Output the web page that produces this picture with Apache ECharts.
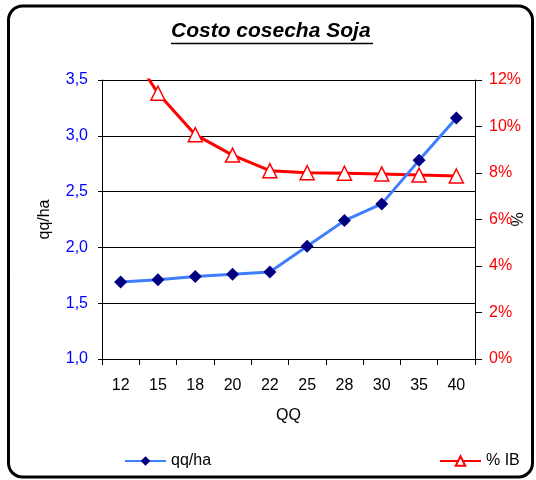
<!DOCTYPE html>
<html lang="es">
<head>
    <meta charset="UTF-8">
    <title>Costo cosecha Soja</title>
    <script src="https://cdn.jsdelivr.net/npm/echarts@6/dist/echarts.min.js"></script>
    <style>
        html, body { margin: 0; padding: 0; background: #fff; }
        #main { width: 536px; height: 480px; }
    </style>
</head>
<body>
<div id="main"></div>

<script>
    // datos
    var categorias = ['12', '15', '18', '20', '22', '25', '28', '30', '35', '40'];
    var qqHa = [1.69, 1.71, 1.74, 1.76, 1.78, 2.01, 2.24, 2.39, 2.78, 3.16];
    var pctIB = [13.9, 11.43, 9.65, 8.77, 8.1, 8.01, 7.99, 7.96, 7.91, 7.87];

    var fuente = 'Liberation Sans, Arial, sans-serif';

    var myChart = echarts.init(document.getElementById('main'));

    var option = {
        backgroundColor: '#fff',
        animation: false,
        title: {
            text: 'Costo cosecha Soja',
            left: 166,
            top: 16,
            textStyle: {
                fontFamily: fuente,
                fontSize: 21,
                fontWeight: 'bold',
                fontStyle: 'italic',
                color: '#000'
            }
        },
        graphic: [
            {
                // marco redondeado
                type: 'rect',
                shape: { x: 8.5, y: 6, width: 524, height: 471, r: 14 },
                style: { fill: null, stroke: '#000', lineWidth: 3 },
                silent: true
            },
            {
                // subrayado del titulo
                type: 'line',
                shape: { x1: 171, y1: 43.5, x2: 373, y2: 43.5 },
                style: { stroke: '#000', lineWidth: 1.5 },
                silent: true
            }
        ],
        legend: [
            {
                data: ['qq/ha'],
                left: 119,
                top: 448,
                itemWidth: 41,
                itemHeight: 12,
                textStyle: { fontFamily: fuente, fontSize: 16, color: '#000' }
            },
            {
                data: ['% IB'],
                left: 434,
                top: 448,
                itemWidth: 41,
                itemHeight: 12,
                textStyle: { fontFamily: fuente, fontSize: 16, color: '#000' }
            }
        ],
        grid: {
            left: 102,
            right: 61,
            top: 80,
            bottom: 121,
            outerBoundsMode: 'none'
        },
        xAxis: {
            type: 'category',
            data: categorias,
            boundaryGap: true,
            name: 'QQ',
            nameLocation: 'middle',
            nameGap: 49,
            nameMoveOverlap: false,
            nameTextStyle: { fontFamily: fuente, fontSize: 16, color: '#000' },
            axisLine: { lineStyle: { color: '#000', width: 1 } },
            axisTick: { show: true, length: 6, lineStyle: { color: '#000' } },
            axisLabel: { margin: 19, fontFamily: fuente, fontSize: 16, color: '#000' }
        },
        yAxis: [
            {
                type: 'value',
                min: 1,
                max: 3.5,
                interval: 0.5,
                name: 'qq/ha',
                nameLocation: 'middle',
                nameGap: 49,
                nameMoveOverlap: false,
                nameTextStyle: { fontFamily: fuente, fontSize: 16, color: '#000' },
                axisLine: { show: true, lineStyle: { color: '#000', width: 1 } },
                axisTick: { show: true, length: 4, lineStyle: { color: '#000' } },
                axisLabel: {
                    margin: 14,
                    fontFamily: fuente,
                    fontSize: 16,
                    color: '#0000ff',
                    formatter: function (v) { return v.toFixed(1).replace('.', ','); }
                },
                splitLine: { show: true, lineStyle: { color: '#000', width: 1 } }
            },
            {
                type: 'value',
                min: 0,
                max: 12,
                interval: 2,
                position: 'right',
                name: '%',
                nameLocation: 'middle',
                nameGap: 36,
                nameMoveOverlap: false,
                nameTextStyle: { fontFamily: fuente, fontSize: 16, color: '#000' },
                axisLine: { show: true, lineStyle: { color: '#000', width: 1 } },
                axisTick: { show: true, length: 7, lineStyle: { color: '#000' } },
                axisLabel: {
                    margin: 14,
                    fontFamily: fuente,
                    fontSize: 16,
                    color: '#ff0000',
                    formatter: '{value}%'
                },
                splitLine: { show: false }
            }
        ],
        series: [
            {
                name: 'qq/ha',
                type: 'line',
                yAxisIndex: 0,
                data: qqHa,
                z: 3,
                symbol: 'diamond',
                symbolSize: 13,
                lineStyle: { color: '#3f7fff', width: 3 },
                itemStyle: { color: '#000080' }
            },
            {
                name: '% IB',
                type: 'line',
                yAxisIndex: 1,
                data: pctIB,
                z: 2,
                clip: true,
                symbol: 'triangle',
                symbolSize: 14,
                lineStyle: { color: '#ff0000', width: 3 },
                itemStyle: { color: '#fff', borderColor: '#ff0000', borderWidth: 1.5 }
            }
        ]
    };

    myChart.setOption(option);
</script>
</body>
</html>
